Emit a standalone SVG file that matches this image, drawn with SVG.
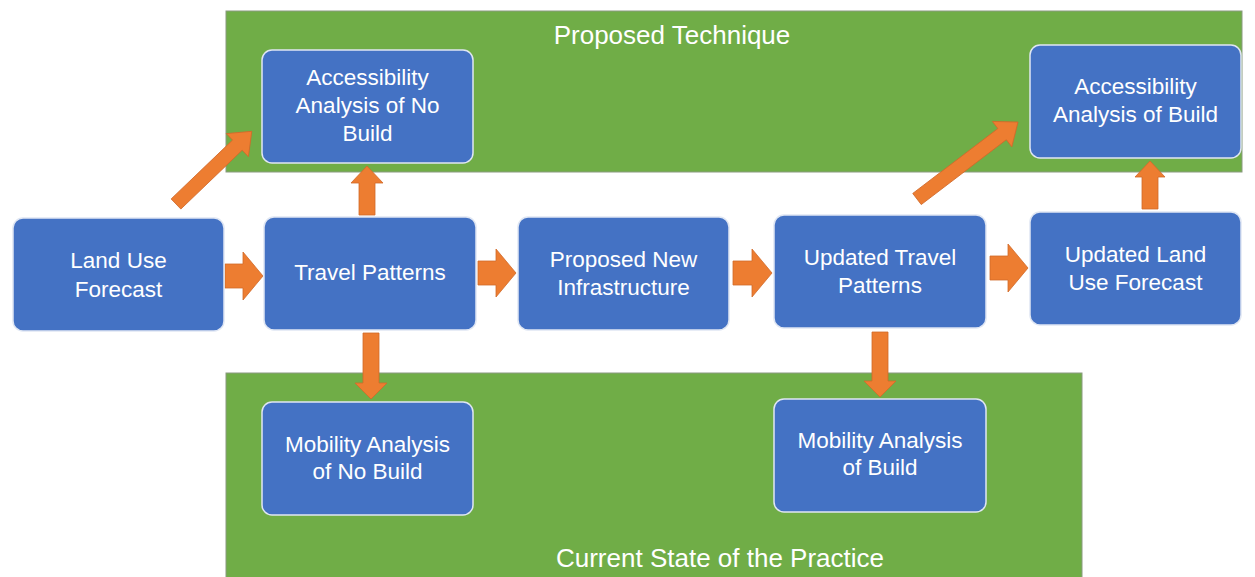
<svg xmlns="http://www.w3.org/2000/svg" width="1255" height="577" viewBox="0 0 1255 577">
<style>
.bg{fill:#70AD47;stroke:#8a9a80;stroke-width:1}
.box{fill:#4472C4;stroke:#dfe6f3;stroke-width:1.5}
.t{font-family:"Liberation Sans",Arial,sans-serif;font-size:22.5px;fill:#ffffff;text-anchor:middle}
.h{font-family:"Liberation Sans",Arial,sans-serif;font-size:26px;fill:#ffffff;text-anchor:middle}
.arr{fill:#ED7D31;stroke:#d0692a;stroke-width:0.8}
</style>
<rect width="1255" height="577" fill="#ffffff"/>
<g id="proposed-technique">
<rect class="bg" x="226" y="11" width="1016" height="161"/>
<text class="h" x="672" y="44">Proposed Technique</text>
</g>
<g id="current-state">
<rect class="bg" x="226" y="373" width="856" height="210"/>
<text class="h" x="720" y="567">Current State of the Practice</text>
</g>
<g id="connectors">
<polygon class="arr" points="225,264 243,264 243,252 263,276 243,300 243,288 225,288"/>
<polygon class="arr" points="478,261 496,261 496,249 516,273 496,297 496,285 478,285"/>
<polygon class="arr" points="733,261 752,261 752,249 772,273 752,297 752,285 733,285"/>
<polygon class="arr" points="990,256 1008,256 1008,244 1028,268 1008,292 1008,280 990,280"/>
<polygon class="arr" points="359,215 359,183 351,183 367,166 383,183 375,183 375,215"/>
<polygon class="arr" points="363,333 363,383 355,383 371,399 387,383 379,383 379,333"/>
<polygon class="arr" points="872,332 872,381 864,381 880,397 896,381 888,381 888,332"/>
<polygon class="arr" points="1142,209 1142,177 1135,177 1150,161 1165,177 1158,177 1158,209"/>
<polygon class="arr" transform="translate(176,204) rotate(-43.8)" points="0,-7 85,-7 85,-16 105,0 85,16 85,7 0,7"/>
<polygon class="arr" transform="translate(917,199) rotate(-37.3)" points="0,-7 107,-7 107,-16 127,0 107,16 107,7 0,7"/>
</g>
<g id="acc-no-build">
<rect class="box" x="262" y="50" width="211" height="113" rx="10"/>
<text class="t" x="367.5" y="85">Accessibility</text>
<text class="t" x="367.5" y="113">Analysis of No</text>
<text class="t" x="367.5" y="141">Build</text>
</g>
<g id="acc-build">
<rect class="box" x="1030" y="45" width="211" height="113" rx="10"/>
<text class="t" x="1135.5" y="94">Accessibility</text>
<text class="t" x="1135.5" y="122">Analysis of Build</text>
</g>
<g id="land-use-forecast">
<rect class="box" x="13" y="218" width="211" height="113" rx="10"/>
<text class="t" x="118.5" y="268">Land Use</text>
<text class="t" x="118.5" y="297">Forecast</text>
</g>
<g id="travel-patterns">
<rect class="box" x="264" y="217" width="212" height="113" rx="10"/>
<text class="t" x="370" y="280">Travel Patterns</text>
</g>
<g id="proposed-new-infrastructure">
<rect class="box" x="518" y="217" width="211" height="113" rx="10"/>
<text class="t" x="623.5" y="267">Proposed New</text>
<text class="t" x="623.5" y="295">Infrastructure</text>
</g>
<g id="updated-travel-patterns">
<rect class="box" x="774" y="215" width="212" height="113" rx="10"/>
<text class="t" x="880" y="265">Updated Travel</text>
<text class="t" x="880" y="293">Patterns</text>
</g>
<g id="updated-land-use-forecast">
<rect class="box" x="1030" y="212" width="211" height="113" rx="10"/>
<text class="t" x="1135.5" y="262">Updated Land</text>
<text class="t" x="1135.5" y="290">Use Forecast</text>
</g>
<g id="mobility-no-build">
<rect class="box" x="262" y="402" width="211" height="113" rx="10"/>
<text class="t" x="367.5" y="452">Mobility Analysis</text>
<text class="t" x="367.5" y="479">of No Build</text>
</g>
<g id="mobility-build">
<rect class="box" x="774" y="399" width="212" height="113" rx="10"/>
<text class="t" x="880" y="448">Mobility Analysis</text>
<text class="t" x="880" y="475">of Build</text>
</g>
</svg>
